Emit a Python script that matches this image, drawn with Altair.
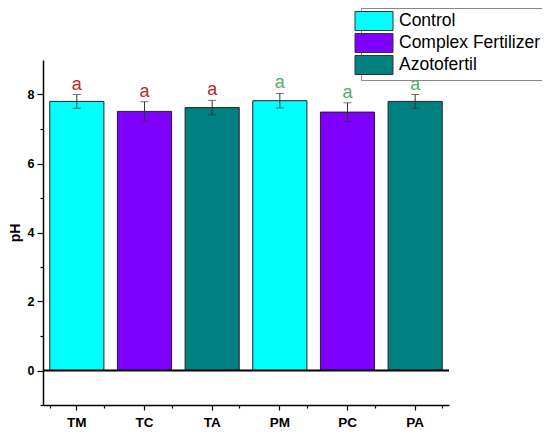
import altair as alt
import pandas as pd

categories = ["TM", "TC", "TA", "PM", "PC", "PA"]
treatments = ["Control", "Complex Fertilizer", "Azotofertil",
              "Control", "Complex Fertilizer", "Azotofertil"]
ph_mean = [7.80, 7.51, 7.62, 7.82, 7.49, 7.80]
ph_err = [0.20, 0.28, 0.21, 0.21, 0.27, 0.20]
letters = ["a", "a", "a", "a", "a", "a"]
letter_group = ["T", "T", "T", "P", "P", "P"]

legend_order = ["Control", "Complex Fertilizer", "Azotofertil"]
bar_colors = ["#00FFFF", "#7F00FF", "#008080"]
letter_colors = ["#C1272D", "#5BAA6E"]
y_ticks = [-1, 0, 1, 2, 3, 4, 5, 6, 7, 8]

FONT = "Liberation Sans"

df = pd.DataFrame({
    "cat": categories,
    "treatment": treatments,
    "ph": ph_mean,
    "err": ph_err,
    "letter": letters,
    "grp": letter_group,
})
df["lo"] = df["ph"] - df["err"]
df["hi"] = df["ph"] + df["err"]

xscale = alt.Scale(paddingInner=0.2, paddingOuter=0.1)
yscale = alt.Scale(domain=[-1, 9], nice=False, zero=False)

xaxis = alt.Axis(title=None, orient="bottom", labelFont=FONT, labelFontSize=13.5,
                 labelFontWeight="bold", labelColor="black", labelAngle=0, labelPadding=5,
                 tickSize=5, tickColor="black", domainColor="black", domainWidth=1.5,
                 tickWidth=1.2)
xaxis_minor = alt.Axis(title=None, orient="bottom", labels=False, domain=False,
                       tickBand="extent", tickSize=3, tickColor="black", tickWidth=1.2)
yaxis = alt.Axis(title="pH", values=y_ticks,
                 labelExpr="datum.value >= 0 && datum.value % 2 == 0 ? datum.value : ''",
                 labelFont=FONT, labelFontSize=12.5, labelFontWeight="bold", labelColor="black",
                 labelPadding=3,
                 tickSize={"condition": {"test": "datum.value % 2 == 0", "value": 6}, "value": 3},
                 tickColor="black", tickWidth=1.2,
                 domainColor="black", domainWidth=1.5, grid=False,
                 titleFont=FONT, titleFontSize=14, titleFontWeight="bold", titleColor="black",
                 titlePadding=5)

X = alt.X("cat:N", sort=categories, scale=xscale, axis=xaxis)
X_minor = alt.X("cat:N", sort=categories, scale=xscale, axis=xaxis_minor)

base = alt.Chart(df)

bars = base.mark_bar(stroke="#222222", strokeWidth=1, opacity=1).encode(
    x=X,
    y=alt.Y("ph:Q", scale=yscale, axis=yaxis, title="pH"),
    color=alt.Color("treatment:N",
                    scale=alt.Scale(domain=legend_order, range=bar_colors),
                    legend=alt.Legend(title=None, orient="none", legendX=318, legendY=-52,
                                      symbolType="M-2,-1H2V1H-2Z", symbolSize=361,
                                      symbolStrokeColor="#333333", symbolStrokeWidth=1,
                                      symbolOpacity=1, labelFont=FONT, labelFontSize=17.5,
                                      labelColor="black", labelLimit=300, labelOffset=15,
                                      strokeColor="#888888", fillColor="white",
                                      padding=3, rowPadding=-6.5)),
)

zero_line = alt.Chart(pd.DataFrame({"v": [0]})).mark_rule(color="black", strokeWidth=2).encode(
    y=alt.Y("v:Q", scale=yscale, axis=yaxis, title="pH")
)

err_rule = base.mark_rule(color="#333333", strokeWidth=1).encode(
    x=X, y=alt.Y("lo:Q", axis=yaxis, title="pH"), y2="hi:Q"
)
cap_hi = base.mark_tick(color="#333333", size=8, thickness=1).encode(
    x=X, y=alt.Y("hi:Q", axis=yaxis, title="pH")
)
cap_lo = base.mark_tick(color="#333333", size=8, thickness=1).encode(
    x=X_minor, y=alt.Y("lo:Q", axis=yaxis, title="pH")
)

labels = base.mark_text(baseline="bottom", dy=-1, font=FONT, fontSize=18).encode(
    x=X,
    y=alt.Y("hi:Q", axis=yaxis, title="pH"),
    text="letter:N",
    color=alt.Color("grp:N", scale=alt.Scale(domain=["T", "P"], range=letter_colors), legend=None),
)

main = alt.layer(bars, zero_line, err_rule, cap_hi, labels).resolve_scale(color="independent")

chart = alt.layer(main, cap_lo).resolve_scale(
    color="independent"
).resolve_axis(x="independent").properties(
    width=406, height=345,
    background="white",
    autosize=alt.AutoSizeParams(type="none"),
    padding={"left": 35, "top": 52, "right": 93, "bottom": 23},
).configure_view(stroke=None)

chart.save("out.html", embed_options={"renderer": "svg", "actions": False})
